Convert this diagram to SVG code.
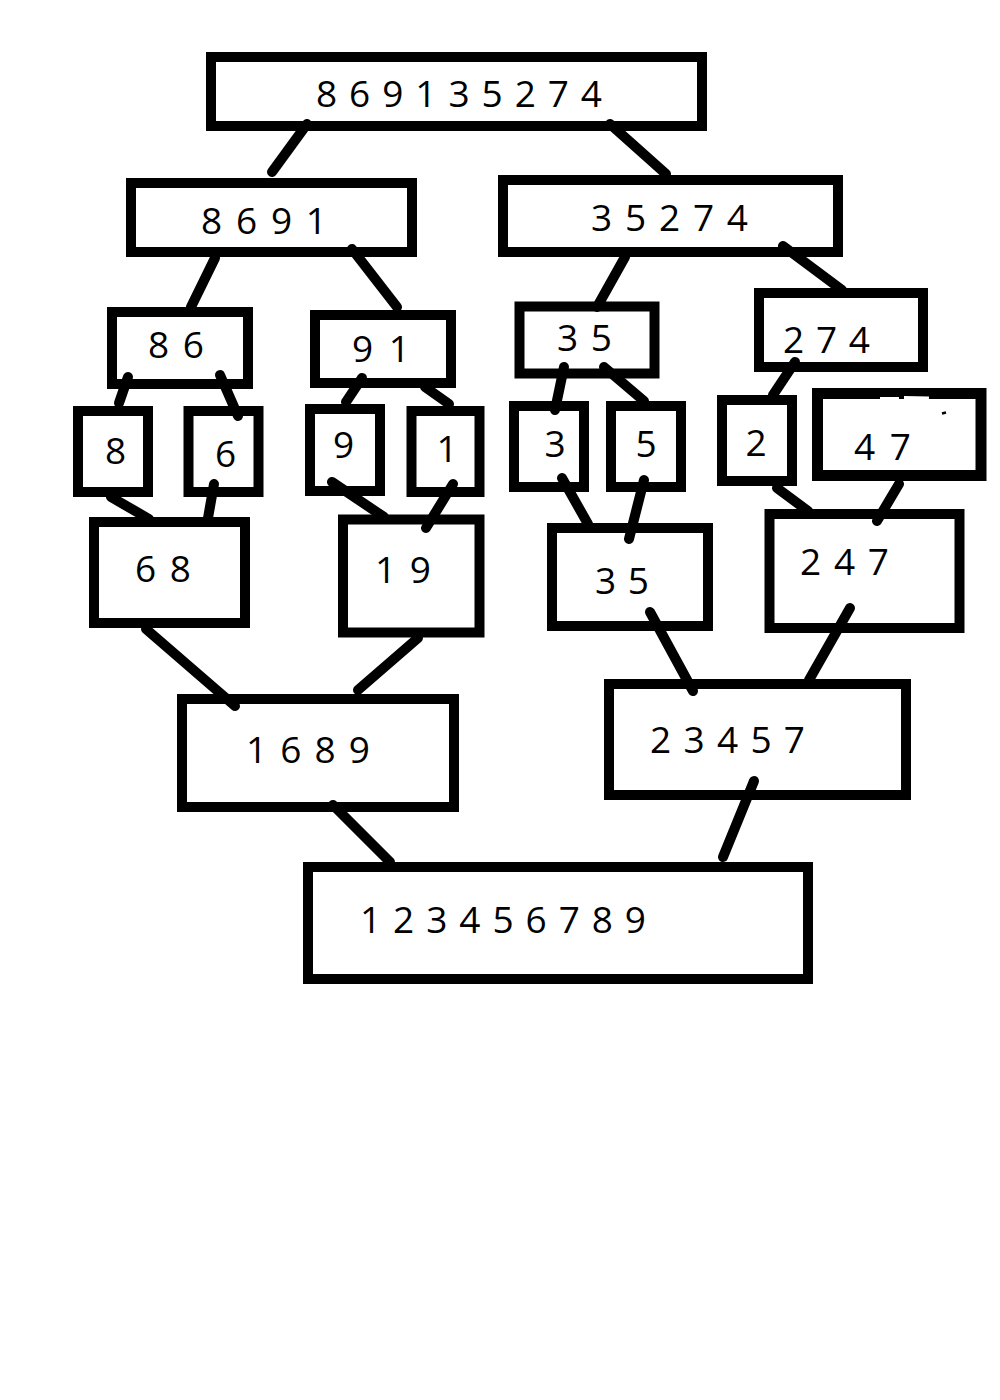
<svg xmlns="http://www.w3.org/2000/svg" width="1000" height="1400" viewBox="0 0 1000 1400">
  <style>
    .box { fill: #ffffff; stroke: #000000; stroke-width: 10; }
    .lbl { font-family: "Open Sans", "Noto Sans", "DejaVu Sans", sans-serif; font-size: 37px; fill: #000000; }
    .one { text-anchor: middle; }
    .edge { stroke: #000000; stroke-width: 10; stroke-linecap: round; fill: none; }
  </style>
  <rect width="1000" height="1400" fill="#ffffff"/>

  <!-- split levels -->
  <g id="n-869135274">
    <rect class="box" x="211" y="57" width="491" height="69"/>
    <text class="lbl" x="316" y="107" textLength="286" lengthAdjust="spacing">8 6 9 1 3 5 2 7 4</text>
  </g>
  <g id="n-8691">
    <rect class="box" x="131" y="183" width="281" height="69"/>
    <text class="lbl" x="201" y="234" textLength="126" lengthAdjust="spacing">8 6 9 1</text>
  </g>
  <g id="n-35274">
    <rect class="box" x="503" y="180" width="335" height="72"/>
    <text class="lbl" x="591" y="231" textLength="157" lengthAdjust="spacing">3 5 2 7 4</text>
  </g>
  <g id="n-86">
    <rect class="box" x="112" y="312" width="136" height="72"/>
    <text class="lbl" x="148" y="358" textLength="56" lengthAdjust="spacing">8 6</text>
  </g>
  <g id="n-91">
    <rect class="box" x="315" y="315" width="136" height="68"/>
    <text class="lbl" x="352" y="362" textLength="58" lengthAdjust="spacing">9 1</text>
  </g>
  <g id="n-35-split">
    <rect class="box" x="519.5" y="306.5" width="135" height="67"/>
    <text class="lbl" x="557" y="351" textLength="55" lengthAdjust="spacing">3 5</text>
  </g>
  <g id="n-274">
    <rect class="box" x="759" y="293" width="164" height="74"/>
    <text class="lbl" x="783" y="353" textLength="87" lengthAdjust="spacing">2 7 4</text>
  </g>

  <!-- single elements -->
  <g id="n-8">
    <rect class="box" x="78" y="411" width="70" height="81"/>
    <text class="lbl one" x="115.5" y="464">8</text>
  </g>
  <g id="n-6">
    <rect class="box" x="188.5" y="411" width="70" height="81"/>
    <text class="lbl one" x="225.5" y="467">6</text>
  </g>
  <g id="n-9">
    <rect class="box" x="310" y="409" width="70" height="82"/>
    <text class="lbl one" x="343.5" y="458">9</text>
  </g>
  <g id="n-1">
    <rect class="box" x="411.5" y="411" width="68" height="81"/>
    <text class="lbl one" x="447" y="462">1</text>
  </g>
  <g id="n-3">
    <rect class="box" x="514" y="406" width="70" height="81"/>
    <text class="lbl one" x="555" y="457">3</text>
  </g>
  <g id="n-5">
    <rect class="box" x="611" y="406" width="70" height="81"/>
    <text class="lbl one" x="646" y="457">5</text>
  </g>
  <g id="n-2">
    <rect class="box" x="722" y="400" width="70" height="81"/>
    <text class="lbl one" x="756" y="456">2</text>
  </g>
  <g id="n-47">
    <rect class="box" x="817.5" y="393.5" width="163.5" height="82" style="stroke-width:11"/>
    <!-- rubbed-out specks on the top edge -->
    <path d="M880 398.5 L899 398.5 M904 397.5 L929 398" stroke="#ffffff" stroke-width="3" fill="none"/>
    <path d="M942 413.5 L946 412.5" stroke="#000000" stroke-width="2.5" fill="none"/>
    <text class="lbl" x="854" y="460" textLength="57" lengthAdjust="spacing">4 7</text>
  </g>

  <!-- merge levels -->
  <g id="n-68">
    <rect class="box" x="94" y="522" width="151" height="101"/>
    <text class="lbl" x="135" y="582" textLength="56" lengthAdjust="spacing">6 8</text>
  </g>
  <g id="n-19">
    <rect class="box" x="343" y="519.5" width="136.5" height="113"/>
    <text class="lbl" x="375" y="583" textLength="56" lengthAdjust="spacing">1 9</text>
  </g>
  <g id="n-35-merged">
    <rect class="box" x="552" y="528" width="156" height="98"/>
    <text class="lbl" x="595" y="594" textLength="54" lengthAdjust="spacing">3 5</text>
  </g>
  <g id="n-247">
    <rect class="box" x="769.5" y="514" width="190" height="114"/>
    <text class="lbl" x="800" y="575" textLength="89" lengthAdjust="spacing">2 4 7</text>
  </g>
  <g id="n-1689">
    <rect class="box" x="182" y="699" width="272" height="108"/>
    <text class="lbl" x="246" y="763" textLength="124" lengthAdjust="spacing">1 6 8 9</text>
  </g>
  <g id="n-23457">
    <rect class="box" x="609" y="684" width="297" height="111"/>
    <text class="lbl" x="650" y="753" textLength="155" lengthAdjust="spacing">2 3 4 5 7</text>
  </g>
  <g id="n-123456789">
    <rect class="box" x="308" y="867" width="500" height="112"/>
    <text class="lbl" x="360" y="933" textLength="286" lengthAdjust="spacing">1 2 3 4 5 6 7 8 9</text>
  </g>

  <!-- connectors -->
  <g id="connectors" class="edge">
    <line x1="307" y1="124" x2="272" y2="172"/>
    <line x1="610" y1="124" x2="666" y2="174"/>
    <line x1="215" y1="258" x2="191" y2="307"/>
    <line x1="352" y1="249" x2="397" y2="307"/>
    <line x1="625" y1="257" x2="597" y2="307"/>
    <line x1="783" y1="246" x2="842" y2="290"/>
    <line x1="128" y1="377" x2="119" y2="403"/>
    <line x1="220" y1="375" x2="238" y2="416"/>
    <line x1="362" y1="378" x2="346" y2="402"/>
    <line x1="425" y1="387" x2="449" y2="404"/>
    <line x1="564" y1="367" x2="555" y2="410"/>
    <line x1="604" y1="367" x2="644" y2="401"/>
    <line x1="795" y1="362" x2="773" y2="395"/>
    <line x1="111" y1="497" x2="149" y2="519"/>
    <line x1="214" y1="484" x2="208" y2="518"/>
    <line x1="332" y1="482" x2="384" y2="517"/>
    <line x1="453" y1="484" x2="426" y2="528"/>
    <line x1="562" y1="478" x2="588" y2="524"/>
    <line x1="644" y1="480" x2="629" y2="539"/>
    <line x1="777" y1="488" x2="808" y2="511"/>
    <line x1="899" y1="484" x2="877" y2="521"/>
    <line x1="146" y1="629" x2="235" y2="706"/>
    <line x1="418" y1="638" x2="358" y2="690"/>
    <line x1="650" y1="612" x2="693" y2="691"/>
    <line x1="850" y1="608" x2="809" y2="680"/>
    <line x1="333" y1="805" x2="390" y2="862"/>
    <line x1="754" y1="781" x2="723" y2="857"/>
  </g>
</svg>
